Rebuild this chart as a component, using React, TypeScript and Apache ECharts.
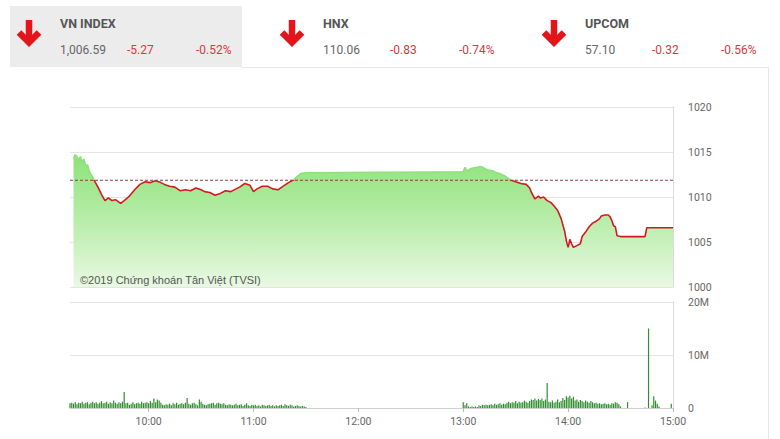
import React, { useEffect, useRef } from "react";
import * as echarts from "echarts";

// ---- Data ----
const REF_PRICE = 1011.86;
const SESSION_START = 555; // 9:15, minutes after midnight
const SESSION_END = 900; // 15:00
const PRICE_MIN = 1000;
const PRICE_MAX = 1020;
const priceTimes = [
  557, 558, 559, 560, 561, 562, 563, 564, 565, 566, 567, 568, 569, 571, 573, 575, 577, 579, 581, 584,
  586, 589, 592, 595, 598, 601, 604, 607, 609, 612, 615, 618, 621, 624, 627, 630, 632, 635, 638, 641,
  644, 647, 650, 652, 655, 658, 660, 662, 665, 668, 671, 674, 677, 680, 683, 685, 687, 690,
  780, 781, 782, 783, 785, 788, 790, 792, 794, 797, 799, 801, 804, 807, 810, 813, 816, 818, 819, 821,
  823, 824, 826, 828, 830, 832, 834, 836, 838, 839, 840, 841, 842, 843, 845, 847, 848, 850, 852, 854,
  856, 858, 859, 861, 863, 864, 865, 866, 867, 868, 870, 884, 885, 900,
];
const priceValues = [
  1014.3, 1014.7, 1014.5, 1014.1, 1014.5, 1013.9, 1014.2, 1013.4, 1013.6, 1012.9, 1012.5, 1012.2, 1011.8, 1011.1, 1010.3, 1009.6, 1009.9, 1009.6, 1009.7, 1009.3,
  1009.6, 1010.1, 1010.8, 1011.4, 1011.7, 1011.6, 1011.8, 1011.6, 1011.4, 1011.2, 1011.1, 1010.7, 1010.8, 1010.7, 1011.0, 1010.8, 1010.6, 1010.5, 1010.2, 1010.4,
  1010.7, 1010.6, 1010.9, 1011.1, 1011.5, 1011.3, 1010.6, 1010.9, 1011.2, 1011.2, 1010.9, 1010.8, 1011.2, 1011.6, 1011.9, 1012.3, 1012.6, 1012.7,
  1012.8, 1013.3, 1012.9, 1013.0, 1013.2, 1013.3, 1013.4, 1013.2, 1013.0, 1012.9, 1012.7, 1012.6, 1012.3, 1011.9, 1011.7, 1011.5, 1011.4, 1011.0, 1010.5, 1009.8,
  1010.1, 1009.9, 1010.0, 1009.6, 1009.4, 1009.0, 1008.5, 1007.6, 1006.2, 1005.1, 1004.4, 1005.3, 1004.8, 1004.4, 1004.6, 1004.8, 1005.6, 1006.1, 1006.7, 1007.1,
  1007.3, 1007.6, 1007.9, 1008.0, 1008.0, 1007.8, 1007.4, 1006.8, 1006.7, 1005.7, 1005.6, 1005.6, 1006.59, 1006.59,
];

// volume in millions, one value per minute
const morningStart = 555;
const morningVol = [
  0.9, 1.0, 0.8, 1.1, 0.7, 1.0, 0.9, 1.2, 0.8, 1.0, 1.1, 0.7, 1.0, 1.2, 0.9,
  1.1, 0.8, 1.0, 1.3, 0.9, 1.0, 1.2, 0.8, 1.1, 0.9, 1.4, 1.0, 0.8, 1.1, 0.9,
  1.2, 3.0, 0.9, 1.0, 0.6, 0.8, 1.1, 0.7, 0.9, 1.0, 0.8, 1.2, 0.9, 1.0, 1.1,
  0.9, 1.3, 1.0, 1.8, 1.1, 1.6, 1.4, 1.0, 0.6, 0.5, 0.7, 0.6, 0.8, 0.5, 0.9,
  0.7, 1.0, 0.6, 0.8, 0.9, 0.7, 1.0, 1.9, 0.8, 0.6, 0.9, 1.0, 0.7, 0.5, 1.6,
  1.2, 0.8, 0.6, 0.5, 0.7, 0.8, 0.9, 1.0, 0.6, 0.9, 1.0, 0.8, 0.7, 0.9, 0.6,
  0.5, 0.7, 0.6, 0.5, 0.6, 0.8, 0.5, 0.6, 0.7, 0.4, 0.6, 0.9, 0.5, 0.4, 0.6,
  0.5, 0.6, 0.4, 0.5, 0.3, 0.6, 0.5, 0.4, 0.5, 0.6, 0.4, 0.5, 0.3, 0.5, 0.4,
  0.5, 0.6, 0.4, 0.7, 0.5, 0.4, 0.6, 0.5, 0.3, 0.4, 0.5, 0.4, 0.3, 0.4, 0.3, 0.2,
];
const afternoonStart = 780;
const afternoonVol = [
  1.1, 0.5, 0.9, 0.3, 0.2, 0.3, 0.2, 0.3, 0.2, 0.5, 0.4, 0.6, 0.5, 0.6, 0.5,
  0.6, 0.7, 0.5, 0.8, 0.6, 0.7, 0.9, 0.6, 0.8, 0.7, 1.0, 1.2, 0.9, 1.1, 1.0,
  1.3, 0.9, 1.2, 1.0, 1.1, 1.4, 1.2, 1.0, 1.3, 1.6, 1.5, 1.8, 1.4, 1.7, 1.5,
  1.8, 1.3, 1.6, 4.7, 1.2, 1.1, 1.4, 1.0, 1.2, 1.6, 1.1, 1.3, 1.9, 1.5, 2.2,
  2.0, 2.3, 1.8, 2.1, 1.4, 1.6, 1.2, 1.5, 1.3, 1.1, 1.4, 1.2, 1.0, 1.3, 1.1,
  0.9, 1.0, 0.8, 0.9, 0.7, 0.8, 0.9, 0.7, 0.8, 0.6, 0.9, 0.8, 1.1, 1.0, 0.7,
  0.3,
];
const lateVolTimes = [874, 884, 886, 888, 889, 890, 891, 892, 899];
const lateVol = [1.1, 0.1, 15.0, 0.5, 2.2, 1.4, 0.8, 0.3, 0.8];

const indices = [
  { name: "VN INDEX", value: "1,006.59", change: "-5.27", pct: "-0.52%" },
  { name: "HNX", value: "110.06", change: "-0.83", pct: "-0.74%" },
  { name: "UPCOM", value: "57.10", change: "-0.32", pct: "-0.56%" },
];

const fmtTime = (v: number) => {
  const h = Math.floor(v / 60);
  const m = Math.round(v - h * 60);
  return h + ":" + (m < 10 ? "0" + m : "" + m);
};

const GRID1 = { left: 70, top: 107, width: 603, height: 180 };
const GRID2 = { left: 70, top: 302, width: 603, height: 106 };

export default function App() {
  const ref = useRef<HTMLDivElement>(null);
  useEffect(() => {
    if (!ref.current) return;
    const chart = echarts.init(ref.current, null, { renderer: "svg" });

    const minutes: string[] = [];
    for (let t = SESSION_START; t <= SESSION_END; t++) minutes.push(String(t));
    const isHour = (idx: number) => (SESSION_START + idx) % 60 === 0;

    const priceData = priceTimes.map((t, i) => [String(t), priceValues[i]]);
    const refData = [[String(SESSION_START), REF_PRICE], [String(SESSION_END), REF_PRICE]];
    const volData: any[] = [];
    morningVol.forEach((v, i) => volData.push([String(morningStart + i), v * 1e6]));
    afternoonVol.forEach((v, i) => volData.push([String(afternoonStart + i), v * 1e6]));
    lateVolTimes.forEach((t, i) => volData.push([String(t), lateVol[i] * 1e6]));

    // line colour switches at the reference price (global gradient over the price grid)
    const split = (PRICE_MAX - REF_PRICE) / (PRICE_MAX - PRICE_MIN);
    const lineColor = new echarts.graphic.LinearGradient(
      0, GRID1.top, 0, GRID1.top + GRID1.height,
      [
        { offset: 0, color: "#8fe07c" },
        { offset: split, color: "#8fe07c" },
        { offset: split, color: "#d4181f" },
        { offset: 1, color: "#d4181f" },
      ],
      true
    );

    const headerX = [0, 263, 525];
    const graphics: any[] = [
      { type: "rect", shape: { x: 10, y: 6, width: 232, height: 61 }, style: { fill: "#ececec" }, silent: true },
      { type: "line", shape: { x1: 242, y1: 67.5, x2: 768, y2: 67.5 }, style: { stroke: "#e6e6e6", lineWidth: 1 }, silent: true },
      { type: "line", shape: { x1: 768.5, y1: 67, x2: 768.5, y2: 439 }, style: { stroke: "#e6e6e6", lineWidth: 1 }, silent: true },
      {
        type: "text", x: 80, y: 280, z: 10,
        style: { text: "©2019 Chứng khoán Tân Việt (TVSI)", fill: "#555", fontSize: 11, fontFamily: "Liberation Sans, Arial, sans-serif", verticalAlign: "middle" },
        silent: true,
      },
    ];
    indices.forEach((d, i) => {
      const ox = headerX[i];
      graphics.push({
        type: "polyline",
        shape: { points: [[29 + ox, 20], [29 + ox, 42]] },
        style: { stroke: "#e3151b", lineWidth: 6.5, fill: null },
        silent: true,
      });
      graphics.push({
        type: "polyline",
        shape: { points: [[19 + ox, 32.5], [29 + ox, 42.5], [39 + ox, 32.5]] },
        style: { stroke: "#e3151b", lineWidth: 6.5, fill: null, lineJoin: "miter" },
        silent: true,
      });
      graphics.push({
        type: "text", x: 60 + ox, y: 23,
        style: { text: d.name, fill: "#555", fontSize: 12.5, fontWeight: "bold", fontFamily: "Roboto, sans-serif", verticalAlign: "middle" },
        silent: true,
      });
      graphics.push({
        type: "text", x: 60 + ox, y: 50,
        style: { text: d.value, fill: "#666", fontSize: 12, fontFamily: "Roboto, sans-serif", verticalAlign: "middle" },
        silent: true,
      });
      graphics.push({
        type: "text", x: 127 + ox, y: 50,
        style: { text: d.change, fill: "#d8383d", fontSize: 12, fontFamily: "Roboto, sans-serif", verticalAlign: "middle" },
        silent: true,
      });
      graphics.push({
        type: "text", x: 196 + ox, y: 50,
        style: { text: d.pct, fill: "#d8383d", fontSize: 12, fontFamily: "Roboto, sans-serif", verticalAlign: "middle" },
        silent: true,
      });
    });

    const labelStyle = { color: "#666", fontSize: 10.5, fontFamily: "Roboto, sans-serif" };

    chart.setOption({
      animation: false,
      backgroundColor: "#fff",
      grid: [GRID1, GRID2],
      xAxis: [
        {
          type: "category", gridIndex: 0, data: minutes, boundaryGap: false,
          axisLine: { show: false }, axisTick: { show: false }, axisLabel: { show: false }, splitLine: { show: false },
        },
        {
          type: "category", gridIndex: 1, data: minutes, boundaryGap: false,
          axisLine: { show: true, lineStyle: { color: "#cfcfcf" } },
          axisTick: { show: true, length: 4, interval: (idx: number) => isHour(idx), lineStyle: { color: "#bbb" } },
          axisLabel: {
            show: true, interval: (idx: number) => isHour(idx),
            formatter: (v: string) => fmtTime(Number(v)), margin: 8, ...labelStyle,
          },
          splitLine: { show: false },
        },
      ],
      yAxis: [
        {
          type: "value", gridIndex: 0, position: "right", min: PRICE_MIN, max: PRICE_MAX, interval: 5,
          axisLine: { show: true, lineStyle: { color: "#dcdcdc" } },
          axisTick: { show: false },
          axisLabel: { margin: 15, formatter: (v: number) => String(v), ...labelStyle },
          splitLine: { show: true, lineStyle: { color: "#e4e4e4" } },
        },
        {
          type: "value", gridIndex: 1, position: "right", min: 0, max: 20e6, interval: 10e6,
          axisLine: { show: true, lineStyle: { color: "#dcdcdc" } },
          axisTick: { show: false },
          axisLabel: { margin: 15, formatter: (v: number) => (v === 0 ? "0" : v / 1e6 + "M"), ...labelStyle },
          splitLine: { show: true, lineStyle: { color: "#e4e4e4" } },
        },
      ],
      series: [
        {
          type: "line",
          xAxisIndex: 0,
          yAxisIndex: 0,
          data: priceData,
          symbol: "none",
          showSymbol: false,
          lineStyle: { width: 1.6, color: lineColor },
          areaStyle: {
            origin: "start",
            opacity: 1,
            color: new echarts.graphic.LinearGradient(0, 0, 0, 1, [
              { offset: 0, color: "#8ee27a" },
              { offset: 0.5, color: "#b8edaa" },
              { offset: 1, color: "#e9f9e3" },
            ]),
          },
          z: 3,
        },
        {
          type: "line",
          xAxisIndex: 0,
          yAxisIndex: 0,
          data: refData,
          symbol: "none",
          showSymbol: false,
          lineStyle: { color: "#8a3c3c", type: [3, 2], width: 1 },
          z: 4,
        },
        {
          type: "bar",
          xAxisIndex: 1,
          yAxisIndex: 1,
          data: volData,
          barWidth: 1.2,
          itemStyle: { color: "#2f8f2f" },
        },
      ],
      graphic: graphics,
    });
    return () => chart.dispose();
  }, []);

  return <div ref={ref} style={{ position: "fixed", left: 0, top: 0, width: 780, height: 439 }} />;
}
